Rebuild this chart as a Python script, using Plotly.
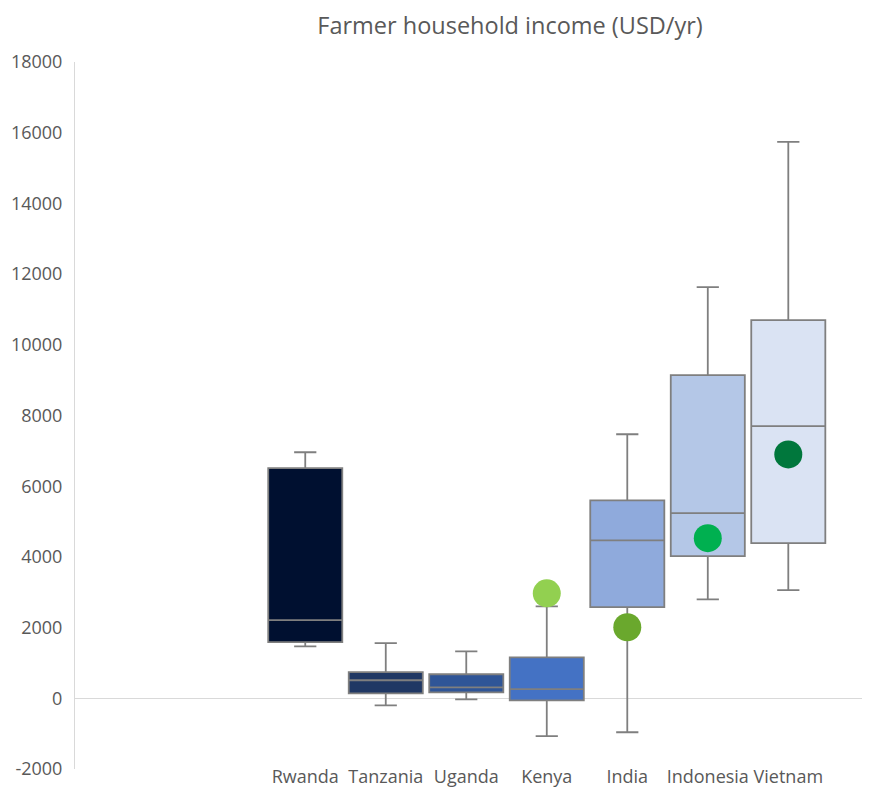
import plotly.graph_objects as go

countries = ["Rwanda", "Tanzania", "Uganda", "Kenya", "India", "Indonesia", "Vietnam"]
lower = [1470, -200, -30, -1070, -960, 2800, 3060]
q1 = [1590, 140, 170, -60, 2580, 4020, 4390]
median = [2210, 510, 310, 260, 4470, 5240, 7700]
q3 = [6510, 740, 680, 1160, 5600, 9140, 10700]
upper = [6960, 1560, 1330, 2600, 7470, 11630, 15740]
box_colors = ["#001030", "#203864", "#2F5597", "#4472C4", "#8FAADC", "#B4C7E7", "#DAE3F3"]

dot_countries = ["Kenya", "India", "Indonesia", "Vietnam"]
dot_values = [2970, 2010, 4530, 6900]
dot_colors = ["#92D050", "#6AA82D", "#00B050", "#00773C"]

y_tick_values = [-2000, 0, 2000, 4000, 6000, 8000, 10000, 12000, 14000, 16000, 18000]
y_tick_labels = ["-2000", "0", "2000", "4000", "6000", "8000", "10000", "12000", "14000", "16000", "18000"]

fig = go.Figure()
for i, c in enumerate(countries):
    fig.add_trace(go.Box(
        x=[c], q1=[q1[i]], median=[median[i]], q3=[q3[i]],
        lowerfence=[lower[i]], upperfence=[upper[i]],
        fillcolor=box_colors[i],
        line=dict(color="#7F7F7F", width=1.8),
        width=0.92, whiskerwidth=0.3,
        boxpoints=False, showlegend=False, hoverinfo="skip",
    ))

fig.add_trace(go.Scatter(
    x=dot_countries, y=dot_values, mode="markers",
    marker=dict(size=28, color=dot_colors, line=dict(width=0)),
    showlegend=False, hoverinfo="skip",
))

fig.update_layout(
    width=862, height=781,
    margin=dict(l=67, r=2, t=54, b=20),
    paper_bgcolor="white", plot_bgcolor="white",
    font=dict(family="Open Sans", color="#595959", size=18),
    title=dict(text="Farmer household income (USD/yr)", x=0.5486, xref="paper",
               xanchor="center", y=0.977, yref="container", yanchor="middle",
               font=dict(size=23.5, color="#595959")),
    boxmode="overlay",
    showlegend=False,
)
fig.update_xaxes(type="category", categoryorder="array", categoryarray=countries,
                 range=[-2.86, 6.99], showgrid=False, showline=False, zeroline=False,
                 ticks="", ticklen=0, tickfont=dict(size=18, color="#595959"),
                 ticklabelstandoff=-5, automargin=False)
fig.update_yaxes(range=[-2000, 18000], tickvals=y_tick_values, ticktext=y_tick_labels,
                 showgrid=False,
                 showline=True, linecolor="#D9D9D9", linewidth=1,
                 zeroline=True, zerolinecolor="#D9D9D9", zerolinewidth=1,
                 ticks="", ticklen=0, tickfont=dict(size=18, color="#595959"),
                 ticklabelstandoff=8, automargin=False)

fig.write_html("out.html")
